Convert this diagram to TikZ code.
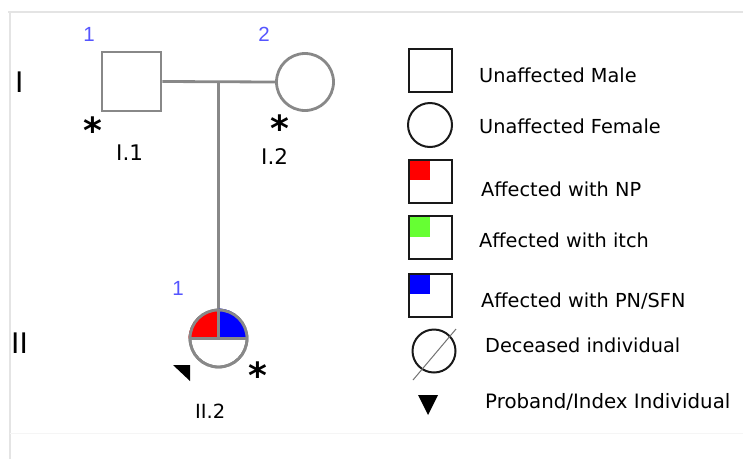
\documentclass[tikz,border=0pt]{standalone}
\usepackage{fontspec}
\setmainfont{DejaVu Sans}
\newfontfamily\arialf{Liberation Sans}
\definecolor{pedgray}{RGB}{136,136,136}
\definecolor{idblue}{RGB}{85,85,255}
\definecolor{npred}{RGB}{255,0,0}
\definecolor{itchgreen}{RGB}{102,255,51}
\definecolor{pnblue}{RGB}{0,0,255}
\definecolor{framegray}{RGB}{228,228,228}
\begin{document}
\begin{tikzpicture}[x=1pt,y=-1pt,
  ped/.style={draw=pedgray,line width=2.8pt,fill=white},
  pedline/.style={pedgray,line width=2.8pt},
  legbox/.style={draw=black!90,line width=2pt,minimum size=43pt,inner sep=0pt},
  legtext/.style={anchor=base west,inner sep=0pt,font=\fontsize{19.3}{22}\selectfont},
  idnum/.style={anchor=base,inner sep=0pt,text=idblue,font=\arialf\fontsize{20.5}{22}\selectfont},
  gen/.style={anchor=base west,inner sep=0pt,font=\arialf\fontsize{30}{32}\selectfont},
  lab/.style={anchor=base west,inner sep=0pt,font=\fontsize{21.5}{24}\selectfont},
  star/.style={anchor=base,inner sep=0pt,font=\bfseries\fontsize{36}{38}\selectfont}]
\useasboundingbox (0,0) rectangle (743,459);
\fill[white] (0,0) rectangle (743,459);

% frame
\draw[framegray,line width=2pt] (8,12) -- (743,12);
\draw[framegray,line width=2pt] (10,12) -- (10,459);
\draw[black!4,line width=1pt] (10,433) -- (743,433);

% generation labels
\node[gen] (g1) at (15,92) {I};
\node[gen] (g2) at (11,353) {II};

% generation I
\node[ped,rectangle,minimum size=59pt,inner sep=0pt] (m1) at (131.5,81.5) {};
\node[ped,circle,minimum size=57pt,inner sep=0pt] (f1) at (305,82) {};
\coordinate (drop) at (218.5,82);
\draw[pedline] (m1.east) -- (f1.west);

\node[idnum] (n1) at (89,41) {1};
\node[idnum] (n2) at (264,41) {2};
\node[star] (s1) at (93,143) {*};
\node[star] (s2) at (280,141) {*};
\node[lab] (l1) at (116,160) {I.1};
\node[lab] (l2) at (261,164) {I.2};

% generation II
\node[ped,circle,minimum size=57pt,inner sep=0pt] (p3) at (218.5,338.5) {};
\draw[pedline] (drop) -- (p3.north);
\fill[npred] (p3.center) -- (p3.west) arc[start angle=180,end angle=90,radius=28.5pt] -- cycle;
\fill[pnblue] (p3.center) -- (p3.north) arc[start angle=90,end angle=0,radius=28.5pt] -- cycle;
\draw[pedline] (p3.center) circle[radius=28.5pt];
\draw[pedline] (p3.west) -- (p3.east);
\draw[pedline] (p3.north) -- (p3.center);

\node[idnum] (n3) at (178,295) {1};
\fill[black] (173,365) -- (190,365) -- (190,381) -- cycle;
\node[star] (s3) at (258,388) {*};
\node[anchor=base west,inner sep=0pt,font=\fontsize{19.5}{22}\selectfont] (l3) at (195,418) {II.2};

% legend
\node[legbox,rectangle] (k1) at (430,70.5) {};
\node[legtext] (t1) at (479,82) {Unaffected Male};
\node[legbox,circle,minimum size=44pt] (k2) at (430,125) {};
\node[legtext] (t2) at (479,133) {Unaffected Female};

\fill[npred] (408,159) rectangle (430,180);
\node[legbox,rectangle] (k3) at (430,181.5) {};
\node[legtext] (t3) at (481,196) {Affected with NP};

\fill[itchgreen] (408,215) rectangle (430,237);
\node[legbox,rectangle] (k4) at (430,237) {};
\node[legtext] (t4) at (479,247) {Affected with itch};

\fill[pnblue] (408,273) rectangle (430,294);
\node[legbox,rectangle] (k5) at (430,295.5) {};
\node[legtext] (t5) at (481,307) {Affected with PN/SFN};

\node[legbox,circle,minimum size=43pt] (k6) at (434,351) {};
\draw[black!55,line width=1pt] (k6.center) ++(-21,29) -- ++(43,-51);
\node[legtext] (t6) at (485,352) {Deceased individual};

\fill[black] (418,395) -- (438,395) -- (428,415) -- cycle;
\node[legtext,font=\fontsize{19.8}{22}\selectfont] (t7) at (485,408) {Proband/Index Individual};
\end{tikzpicture}
\end{document}
